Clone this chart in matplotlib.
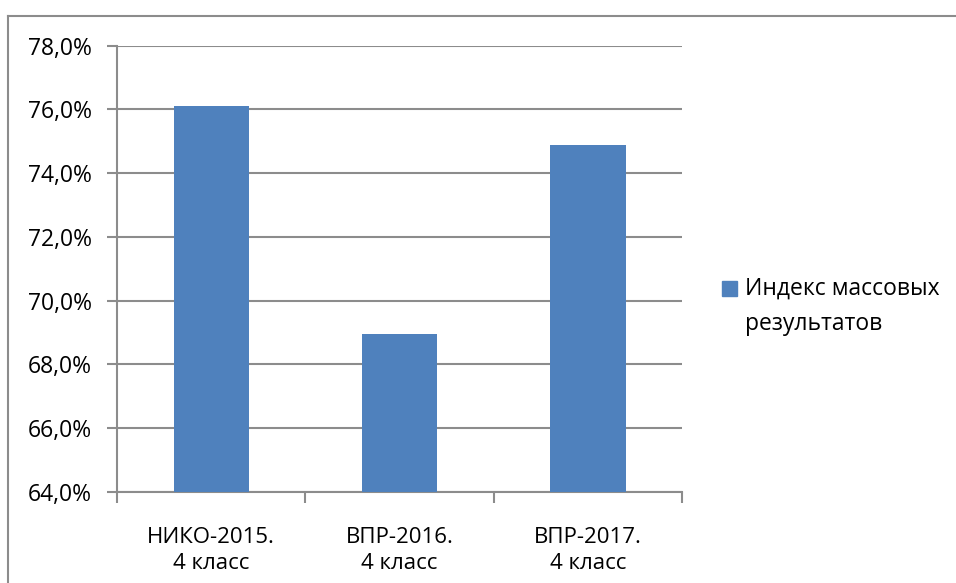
import matplotlib
matplotlib.use("Agg")
import matplotlib.pyplot as plt
from matplotlib.lines import Line2D
from matplotlib.patches import Rectangle
from matplotlib.ticker import FuncFormatter, FixedLocator

categories = ["НИКО-2015.\n4 класс", "ВПР-2016.\n4 класс", "ВПР-2017.\n4 класс"]
values = [76.1, 68.95, 74.9]
series_name = "Индекс массовых\nрезультатов"
yticks = [64, 66, 68, 70, 72, 74, 76, 78]

bar_color = "#4F81BD"
grid_color = "#8C8C8C"

plt.rcParams['font.family'] = ['Open Sans', 'DejaVu Sans']

fig = plt.figure(figsize=(9.56, 5.83), dpi=100)
ax = fig.add_axes([0.1224, 0.1561, 0.5910, 0.7655])

x = range(len(categories))
ax.bar(x, values, width=0.40, color=bar_color, zorder=3)

ax.set_ylim(64, 78)
ax.set_xlim(-0.5, 2.5)
ax.set_yticks(yticks)
ax.yaxis.set_major_formatter(FuncFormatter(lambda v, p: f"{v:.1f}%".replace(".", ",")))
ax.set_xticks(list(x))
ax.set_xticklabels(categories, fontsize=16, linespacing=1.35)
ax.xaxis.set_minor_locator(FixedLocator([-0.5, 0.5, 1.5, 2.5]))

ax.tick_params(axis="y", labelsize=16.5, length=7, width=1.5, color=grid_color, pad=11)
ax.tick_params(axis="x", which="major", length=0, pad=25)
ax.tick_params(axis="x", which="minor", length=8, width=1.5, color=grid_color)

ax.grid(axis="y", color=grid_color, linewidth=1.5, zorder=0)
for s in ["top", "right"]:
    ax.spines[s].set_visible(False)
for s in ["left", "bottom"]:
    ax.spines[s].set_color(grid_color)
    ax.spines[s].set_linewidth(1.5)

# legend drawn by hand: square aligned with the first text line
fig.patches.append(Rectangle((722 / 956, 1 - 296 / 583), 15 / 956, 15 / 583,
                             transform=fig.transFigure, color=bar_color, figure=fig))
fig.text(745 / 956, 1 - 277 / 583, series_name, fontsize=16.5, va="top", ha="left",
         linespacing=1.6)

# outer chart border (top and left visible)
fig.add_artist(Line2D([8 / 956, 8 / 956], [0, 1 - 16 / 583], color=grid_color, lw=1.5,
                      transform=fig.transFigure))
fig.add_artist(Line2D([8 / 956, 1], [1 - 16 / 583, 1 - 16 / 583], color=grid_color, lw=1.5,
                      transform=fig.transFigure))

fig.savefig("out.png", dpi=100)
